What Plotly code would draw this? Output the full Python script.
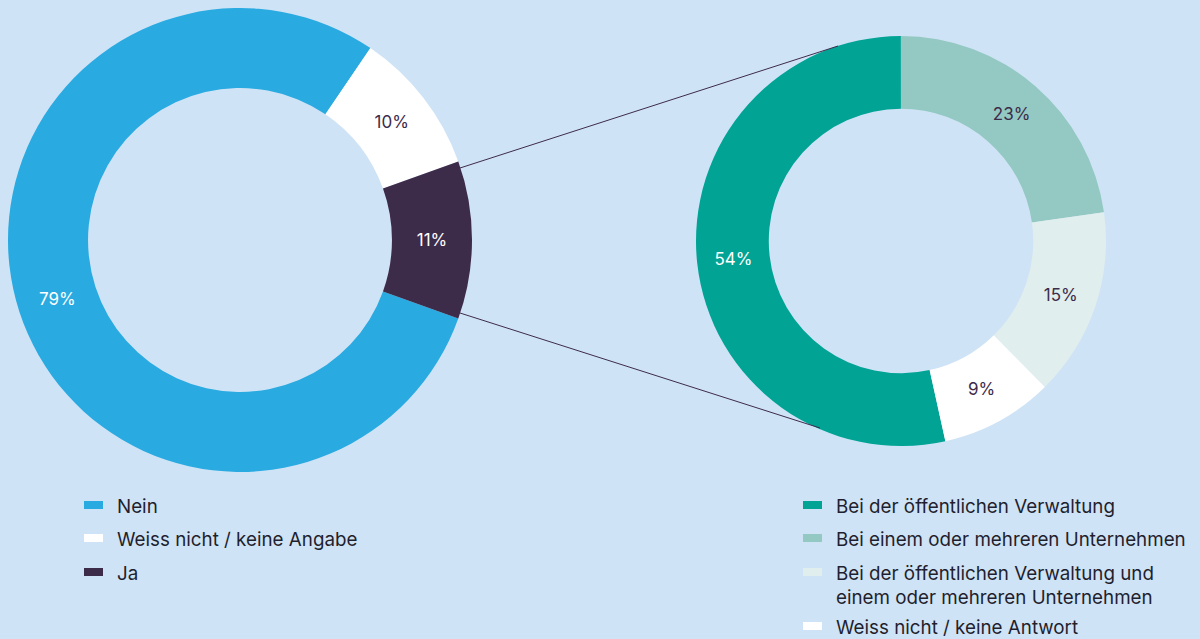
import plotly.graph_objects as go

# left donut: do you share data?
left_labels = ["Nein", "Weiss nicht / keine Angabe", "Ja"]
left_values = [79, 10, 11]
left_colors = ["#29aae1", "#ffffff", "#3d2b4a"]
left_text_colors = ["#ffffff", "#3d2b4a", "#ffffff"]

# right donut: breakdown of "Ja"
right_labels = [
    "Bei der öffentlichen Verwaltung",
    "Bei einem oder mehreren Unternehmen",
    "Bei der öffentlichen Verwaltung und<br>einem oder mehreren Unternehmen",
    "Weiss nicht / keine Antwort",
]
right_values = [54, 23, 15, 9]
right_colors = ["#00a394", "#93c9c2", "#e0eeee", "#ffffff"]
right_text_colors = ["#ffffff", "#3d2b4a", "#3d2b4a", "#3d2b4a"]

W, H = 1200, 639
BG = "#cfe3f6"
FONT = "Inter"
INK = "#1f1f2e"


def px_x(x):
    return x / W


def px_y(y):
    return 1 - y / H


fig = go.Figure()

fig.add_trace(go.Pie(
    labels=left_labels,
    values=left_values,
    marker=dict(colors=left_colors, line=dict(width=0)),
    hole=0.655,
    sort=False,
    direction="clockwise",
    rotation=109.8,
    texttemplate="%{value}%",
    textposition="inside",
    insidetextorientation="horizontal",
    textfont=dict(size=17, color=left_text_colors, family=FONT),
    domain=dict(x=[px_x(8), px_x(472)], y=[px_y(472), px_y(8)]),
    hoverinfo="label+percent",
    showlegend=False,
))

fig.add_trace(go.Pie(
    labels=right_labels,
    values=right_values,
    marker=dict(colors=right_colors, line=dict(width=0)),
    hole=0.645,
    sort=False,
    direction="clockwise",
    rotation=167.5,
    texttemplate="%{value}%",
    textposition="inside",
    insidetextorientation="horizontal",
    textfont=dict(size=17, color=right_text_colors, family=FONT),
    domain=dict(x=[px_x(696), px_x(1106)], y=[px_y(446), px_y(36)]),
    hoverinfo="label+percent",
    showlegend=False,
))

# connector lines from the "Ja" slice to the breakdown donut
for (x0, y0), (x1, y1) in [((460, 168), (838, 46)), ((460, 313), (820, 428))]:
    fig.add_shape(
        type="line", xref="paper", yref="paper",
        x0=px_x(x0), y0=px_y(y0), x1=px_x(x1), y1=px_y(y1),
        line=dict(color="#3d2b4a", width=1),
    )


# legends drawn by hand (flat swatches + wider row spacing than plotly's legend)
def add_legend(labels, colors, x, rows):
    for label, color, row in zip(labels, colors, rows):
        fig.add_shape(
            type="rect", xref="paper", yref="paper",
            x0=px_x(x), x1=px_x(x + 19), y0=px_y(row + 4), y1=px_y(row - 4),
            fillcolor=color, line=dict(width=0),
        )
        fig.add_annotation(
            xref="paper", yref="paper",
            x=px_x(x + 32), y=px_y(row - 11.5),
            text=label, showarrow=False, borderpad=0,
            xanchor="left", yanchor="top", align="left",
            font=dict(size=18.8, color=INK, family=FONT),
        )


add_legend(left_labels, left_colors, 84, [505, 538, 572])
add_legend(right_labels, right_colors, 803, [505, 538, 572, 626])

fig.update_layout(
    width=W,
    height=H,
    margin=dict(l=0, r=0, t=0, b=0),
    paper_bgcolor=BG,
    plot_bgcolor=BG,
    font=dict(family=FONT),
    showlegend=False,
)

fig.write_html(
    "out.html",
    config={"displayModeBar": False},
    post_script="document.body.style.margin='0';document.body.style.background='%s';" % BG,
)
